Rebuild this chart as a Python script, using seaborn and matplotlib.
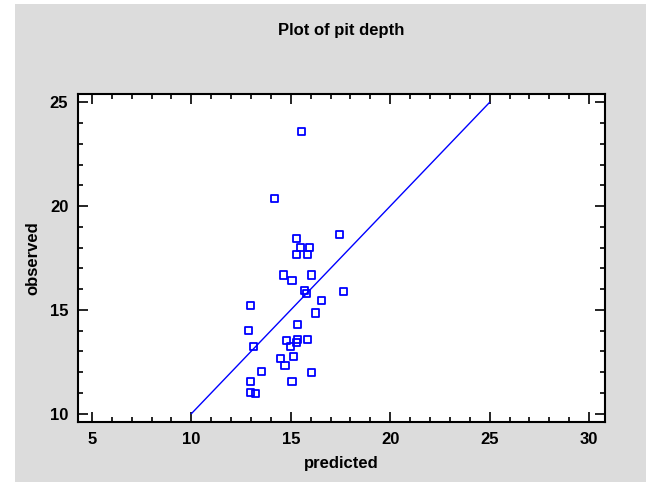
import matplotlib
matplotlib.use("Agg")
import matplotlib.pyplot as plt
import seaborn as sns
import pandas as pd
from matplotlib.patches import Rectangle
from matplotlib.ticker import MultipleLocator

sns.set_theme()
sns.set_style("white")
plt.rcParams['font.family'] = ['Liberation Sans', 'DejaVu Sans']
plt.rcParams['text.color'] = 'black'
plt.rcParams['axes.labelcolor'] = 'black'
plt.rcParams['xtick.color'] = 'black'
plt.rcParams['ytick.color'] = 'black'

# Data
predicted = [15.56, 14.16, 17.45, 15.28, 15.49, 15.92, 15.28, 15.83, 14.64, 16.04,
             15.06, 15.69, 15.78, 17.66, 16.54, 12.96, 16.24, 15.33, 12.89, 13.11,
             14.78, 15.33, 15.28, 15.83, 14.99, 14.49, 15.13, 14.71, 13.53, 16.04,
             12.96, 15.06, 12.96, 13.23]
observed = [23.61, 20.37, 18.63, 18.42, 18.02, 18.02, 17.68, 17.68, 16.68, 16.68,
            16.40, 15.94, 15.79, 15.87, 15.46, 15.19, 14.85, 14.31, 13.99, 13.25,
            13.51, 13.59, 13.44, 13.59, 13.25, 12.64, 12.77, 12.31, 12.03, 11.97,
            11.57, 11.57, 11.02, 10.96]
line_x = [10, 25]
line_y = [10, 25]

data = pd.DataFrame({"predicted": predicted, "observed": observed})
ref = pd.DataFrame({"x": line_x, "y": line_y})

blue = "#0000FF"
fig = plt.figure(figsize=(6.46, 4.82), dpi=100)
fig.patch.set_facecolor("white")
fig.patches.append(Rectangle((15 / 646, 0), 1 - 15 / 646, 1 - 4 / 482,
                             transform=fig.transFigure, facecolor="#DCDCDC",
                             edgecolor="none", zorder=-10))

ax = fig.add_axes([78 / 646, 1 - 422 / 482, (605 - 78) / 646, (422 - 94) / 482])
ax.set_facecolor("white")

sns.lineplot(data=ref, x="x", y="y", color=blue, linewidth=1, ax=ax)
sns.scatterplot(data=data, x="predicted", y="observed", marker="s", s=26,
                facecolor="none", edgecolor=blue, linewidth=1.3, ax=ax)

ax.set_xlim(4.3, 30.8)
ax.set_ylim(9.6, 25.4)
ax.xaxis.set_major_locator(MultipleLocator(5))
ax.xaxis.set_minor_locator(MultipleLocator(1))
ax.yaxis.set_major_locator(MultipleLocator(5))
ax.yaxis.set_minor_locator(MultipleLocator(1))
ax.tick_params(which="both", direction="in", top=True, right=True,
               bottom=True, left=True, color="black", width=1.2)
ax.tick_params(which="major", length=7, labelsize=12, pad=7)
ax.tick_params(which="minor", length=3.5)
for lbl in ax.get_xticklabels() + ax.get_yticklabels():
    lbl.set_fontweight("bold")
for sp in ax.spines.values():
    sp.set_visible(True)
    sp.set_color("black")
    sp.set_linewidth(1.5)

ax.set_xlabel("predicted", fontsize=12, fontweight="bold", labelpad=7)
ax.set_ylabel("observed", fontsize=12, fontweight="bold", labelpad=7)
fig.text(341 / 646, 1 - 30 / 482, "Plot of pit depth", ha="center", va="center",
         fontsize=12, fontweight="bold")

fig.savefig("out.png", dpi=100, facecolor=fig.get_facecolor())
